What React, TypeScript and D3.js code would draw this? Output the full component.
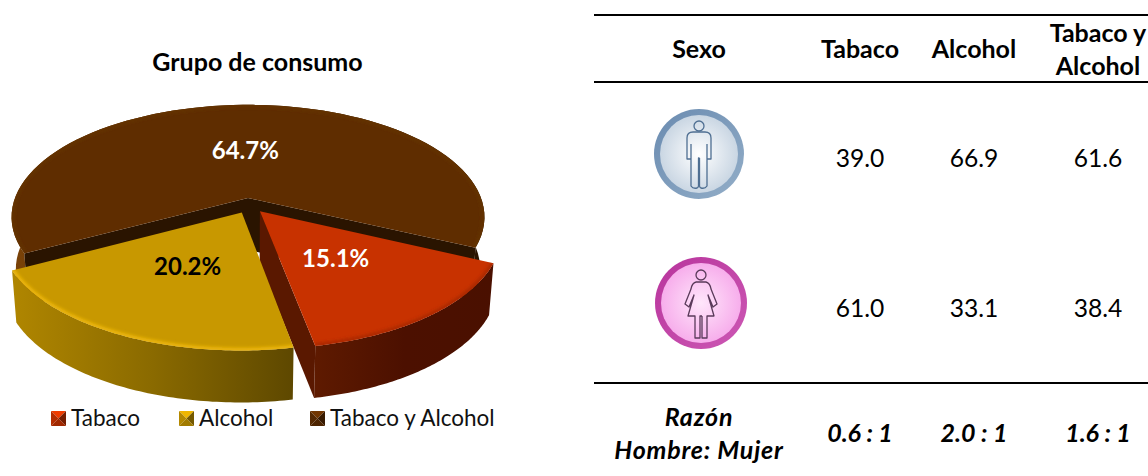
import { useEffect, useRef } from "react";
import * as d3 from "d3";

const sliceNames = ["Tabaco", "Alcohol", "Tabaco y Alcohol"];
const sliceValues = [15.1, 20.2, 64.7];
const tableHeaders = [["Sexo"], ["Tabaco"], ["Alcohol"], ["Tabaco y", "Alcohol"]];
const menValues = ["39.0", "66.9", "61.6"];
const womenValues = ["61.0", "33.1", "38.4"];
const ratioValues = ["0.6 : 1", "2.0 : 1", "1.6 : 1"];

const W = 1148;
const H = 476;
const FONT = "Lato, Carlito, 'Open Sans', sans-serif";

// projection of the pie, fitted by eye
const cx = 248, cy = 198, Rx = 233, Ry = 109, persp = 0.17, depth = 52;
const firstAngle = (115 * Math.PI) / 180;

const project = (u: number, v: number, z = 0): [number, number] => {
  const s = 1 / (1 + persp * v);
  const k = 1 - 0.018 * z;
  return [cx + Rx * u * s * k, cy - Ry * v * s + depth * z];
};

const looks = [
  { top: "#c83200", wall: "#5a1800", side: ["#5e1a00", "#4c1000", "#4a1000"], rim: "#a82800", rimOpacity: 0.8, du: 0.05, dv: -0.12, label: "#fff" },
  { top: "#c89800", wall: "#5a4400", side: ["#b08600", "#8a6a00", "#5e4800"], rim: "#ecb608", rimOpacity: 0.9, du: -0.026, dv: -0.13, label: "#000" },
  { top: "#5f2d00", wall: "#2a1400", side: ["#7a4208", "#4a2400", "#2a1400"], rim: "#6a3808", rimOpacity: 0.4, du: 0, dv: 0, label: "#fff" },
];

const PieTable = () => {
  const svgRef = useRef<SVGSVGElement>(null);

  useEffect(() => {
    const svg = d3.select(svgRef.current);
    svg.selectAll("*").remove();
    const defs = svg.append("defs");

    const blur = defs.append("filter").attr("id", "soft").attr("x", "-10%").attr("y", "-10%").attr("width", "120%").attr("height", "120%");
    blur.append("feGaussianBlur").attr("stdDeviation", 1.6);

    const arcs = d3.pie<number>().sort(null).startAngle(firstAngle).endAngle(firstAngle + 2 * Math.PI)(sliceValues);
    const line = d3.line();

    const g = svg.append("g");

    // draw back slice first, then the red one, the yellow one on top
    [2, 0, 1].forEach((i) => {
      const a = arcs[i];
      const look = looks[i];
      const pt = (u: number, v: number, z = 0) => project(u + look.du, v + look.dv, z);
      const steps = d3.range(0, 81).map((t) => a.startAngle + ((a.endAngle - a.startAngle) * t) / 80);
      const rimTop = steps.map((t) => pt(Math.sin(t), Math.cos(t)));
      const rimBottom = steps.map((t) => pt(Math.sin(t), Math.cos(t), 1));
      const tip = pt(0, 0);
      const tipLow = pt(0, 0, 1);

      const gradId = `side${i}`;
      const xs = d3.extent(rimTop, (d) => d[0]) as [number, number];
      const grad = defs.append("linearGradient").attr("id", gradId).attr("gradientUnits", "userSpaceOnUse")
        .attr("x1", xs[0]).attr("x2", xs[1]).attr("y1", 0).attr("y2", 0);
      look.side.forEach((c, k) => grad.append("stop").attr("offset", k / 2).attr("stop-color", c));

      // outer wall
      g.append("path")
        .attr("d", line([...rimTop, ...rimBottom.slice().reverse()])! + "Z")
        .attr("fill", `url(#${gradId})`);

      // inner walls
      if (i === 2) {
        const first = rimTop[0], last = rimTop[80];
        g.append("path").attr("d", line([tip, first, rimBottom[0], tipLow])! + "Z").attr("fill", look.wall);
        g.append("path").attr("d", line([tip, last, rimBottom[80], tipLow])! + "Z").attr("fill", look.wall);
      }
      if (i === 0) {
        g.append("path").attr("d", line([tip, rimTop[80], rimBottom[80], tipLow])! + "Z").attr("fill", look.wall);
      }

      // top face with a soft bevel on the rim
      const face = line([tip, ...rimTop])! + "Z";
      const clipId = `clip${i}`;
      defs.append("clipPath").attr("id", clipId).append("path").attr("d", face);
      g.append("path").attr("d", face).attr("fill", look.top);
      g.append("g").attr("clip-path", `url(#${clipId})`)
        .append("path")
        .attr("d", line(rimTop)!)
        .attr("fill", "none")
        .attr("stroke", look.rim)
        .attr("stroke-opacity", look.rimOpacity)
        .attr("stroke-width", 6)
        .attr("filter", "url(#soft)");
    });

    // percent labels
    arcs.forEach((a, i) => {
      const mid = (a.startAngle + a.endAngle) / 2;
      const [x, y] = project(0.48 * Math.sin(mid) + looks[i].du, 0.48 * Math.cos(mid) + looks[i].dv);
      g.append("text").attr("x", x).attr("y", y + 1).attr("text-anchor", "middle").attr("dy", "0.35em")
        .attr("font-family", FONT).attr("font-weight", 700).attr("font-size", 24)
        .attr("fill", looks[i].label).text(`${sliceValues[i].toFixed(1)}%`);
    });

    g.append("text").attr("x", 257.5).attr("y", 71).attr("text-anchor", "middle")
      .attr("font-family", FONT).attr("font-weight", 700).attr("font-size", 25).attr("fill", "#000")
      .text("Grupo de consumo");

    // legend with bevelled swatches
    const legendX = d3.scaleOrdinal<string, number>().domain(sliceNames).range([51, 179, 310]);
    sliceNames.forEach((name, i) => {
      const x0 = legendX(name), y0 = 411, sz = 15, c = sz / 2;
      const sw = svg.append("g").attr("transform", `translate(${x0},${y0})`);
      const base = d3.color(looks[i].top)!;
      const tris: [[number, number][], string][] = [
        [[[0, 0], [sz, 0], [c, c]], base.brighter(0.5).formatHex()],
        [[[0, 0], [0, sz], [c, c]], base.darker(0.3).formatHex()],
        [[[sz, 0], [sz, sz], [c, c]], base.darker(1.5).formatHex()],
        [[[0, sz], [sz, sz], [c, c]], base.darker(0.6).formatHex()],
      ];
      tris.forEach(([pts, col]) => sw.append("path").attr("d", line(pts)! + "Z").attr("fill", col));
      svg.append("text").attr("x", x0 + 20).attr("y", 426)
        .attr("font-family", FONT).attr("font-size", 22.5).attr("fill", "#111").text(name);
    });

    // table
    const colX = d3.scaleOrdinal<number, number>().domain([0, 1, 2, 3]).range([699, 860, 974, 1098]);
    const table = svg.append("g").attr("font-family", FONT).attr("text-anchor", "middle").attr("fill", "#000");

    [15, 82, 383].forEach((y) => {
      svg.append("line").attr("x1", 594).attr("x2", W).attr("y1", y).attr("y2", y)
        .attr("stroke", "#000").attr("stroke-width", 2);
    });

    tableHeaders.forEach((lines, i) => {
      lines.forEach((s, k) => {
        table.append("text").attr("x", colX(i)).attr("y", lines.length > 1 ? 42 + k * 33 : 58)
          .attr("font-weight", 700).attr("font-size", 25).text(s);
      });
    });
    menValues.forEach((s, i) => {
      table.append("text").attr("x", colX(i + 1)).attr("y", 167).attr("font-size", 24.6).text(s);
    });
    womenValues.forEach((s, i) => {
      table.append("text").attr("x", colX(i + 1)).attr("y", 317).attr("font-size", 24.6).text(s);
    });
    ratioValues.forEach((s, i) => {
      table.append("text").attr("x", colX(i + 1)).attr("y", 442)
        .attr("font-weight", 700).attr("font-style", "italic").attr("font-size", 25).text(s);
    });
    ["Razón", "Hombre: Mujer"].forEach((s, k) => {
      table.append("text").attr("x", 699).attr("y", 426 + k * 33)
        .attr("font-weight", 700).attr("font-style", "italic").attr("font-size", 25)
        .attr("letter-spacing", 0.8).text(s);
    });

    // sex icons
    const icon = (id: string, x: number, y: number, r: number, ring: string[], inner: string[], ink: string, body: string) => {
      const rg = defs.append("linearGradient").attr("id", `${id}R`).attr("x1", 0).attr("y1", 0).attr("x2", 1).attr("y2", 1);
      rg.append("stop").attr("offset", 0).attr("stop-color", ring[0]);
      rg.append("stop").attr("offset", 1).attr("stop-color", ring[1]);
      const ig = defs.append("radialGradient").attr("id", `${id}I`).attr("cx", 0.5).attr("cy", 0.5).attr("r", 0.55);
      ig.append("stop").attr("offset", 0).attr("stop-color", inner[0]);
      ig.append("stop").attr("offset", 1).attr("stop-color", inner[1]);
      const n = svg.append("g").attr("transform", `translate(${x},${y})`);
      n.append("circle").attr("r", r).attr("fill", `url(#${id}R)`);
      n.append("circle").attr("r", r - 6).attr("fill", `url(#${id}I)`);
      n.append("circle").attr("cy", -28).attr("r", 5).attr("fill", "none").attr("stroke", ink).attr("stroke-width", 1.3);
      n.append("path").attr("d", body).attr("fill", "none").attr("stroke", ink).attr("stroke-width", 1.3).attr("stroke-linejoin", "round");
    };

    icon("m", 699, 154, 45, ["#6a8bb0", "#93aec8"], ["#ffffff", "#c4d2e0"], "#4f6f92",
      "M-6,-22 H6 Q12,-22 12,-16 V5 H8 V-10 M8,-10 V32 Q6,35 2,34 Q1,34 0.5,32 V4 M0.5,4 H-0.5 V32 Q-1,34 -2,34 Q-6,35 -8,32 V-10 M-8,-10 V5 H-12 V-16 Q-12,-22 -6,-22");
    icon("f", 701, 303, 46, ["#b8349c", "#cc58b4"], ["#ffe6fb", "#f6a8ea"], "#5a3a5a",
      "M-5,-21 H5 Q9,-20 10,-14 L16,1 L12,4 L7,-8 L13,13 H6 V35 H1 V13 M1,13 H-1 V35 H-6 V13 H-13 L-7,-8 L-12,4 L-16,1 L-10,-14 Q-9,-20 -5,-21");
  }, []);

  return (
    <svg ref={svgRef} width={W} height={H} style={{ position: "absolute", left: 0, top: 0, background: "#fff" }} />
  );
};

export default function App() {
  return <PieTable />;
}
